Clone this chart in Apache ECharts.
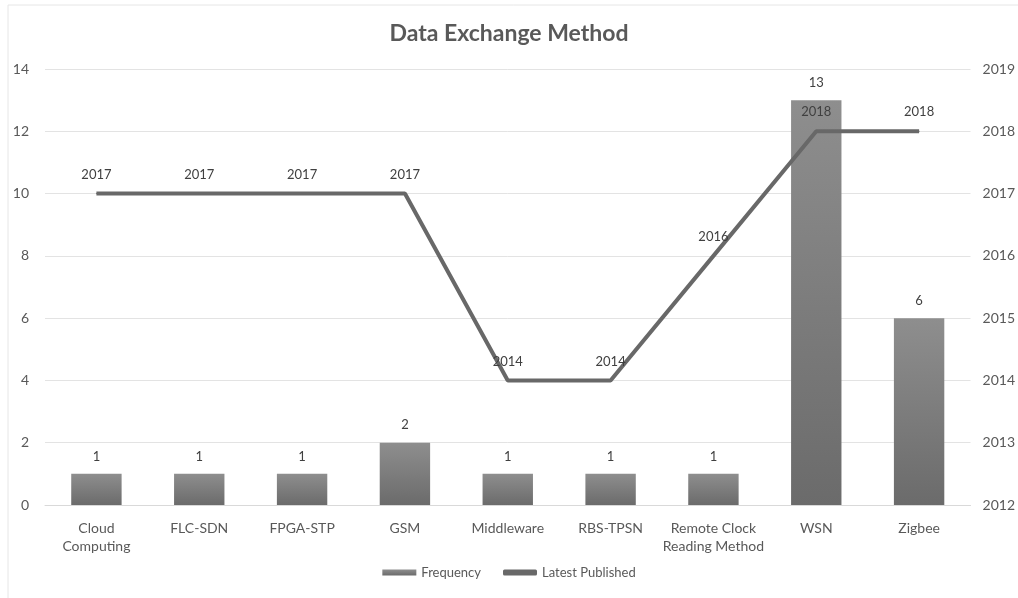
<!DOCTYPE html>
<html><head><meta charset="utf-8">
<script src="https://cdn.jsdelivr.net/npm/echarts@6/dist/echarts.min.js"></script>
<style>html,body{margin:0;padding:0;background:#fff}#c{width:1018px;height:598px}</style>
</head><body><div id="c"></div>
<script>
var categories = ['Cloud\nComputing','FLC-SDN','FPGA-STP','GSM','Middleware','RBS-TPSN','Remote Clock\nReading Method','WSN','Zigbee'];
var frequency = [1,1,1,2,1,1,1,13,6];
var latestPublished = [2017,2017,2017,2017,2014,2014,2016,2018,2018];
var titleText = 'Data Exchange Method';
var font = 'Lato, "Open Sans", sans-serif';
var chart = echarts.init(document.getElementById('c'), null, {renderer:'canvas'});
chart.setOption({
  animation:false,
  backgroundColor:'#fff',
  title:{text:titleText,left:'center',top:17,textStyle:{fontFamily:font,fontSize:23,fontWeight:'bold',color:'#595959'}},
  graphic:[{type:'polyline',shape:{points:[[8,600],[8,5],[1020,5]]},style:{stroke:'#e6e6e6',lineWidth:1,fill:null},silent:true}],
  legend:{bottom:14,left:'center',itemGap:22,textStyle:{fontFamily:font,fontSize:13,color:'#595959'},
    data:[{name:'Frequency',icon:'rect'},{name:'Latest Published',icon:'roundRect'}],itemWidth:34,itemHeight:6},
  grid:{left:45,right:47,top:69,bottom:93},
  xAxis:{type:'category',data:categories,axisLine:{lineStyle:{color:'#d9d9d9'}},axisTick:{show:false},
    axisLabel:{fontFamily:font,fontSize:14,color:'#595959',margin:14,lineHeight:18,interval:0}},
  yAxis:[{type:'value',min:0,max:14,interval:2,axisLine:{show:false},axisTick:{show:false},
    splitLine:{lineStyle:{color:'#e3e3e3'}},axisLabel:{fontFamily:font,fontSize:14,color:'#595959',margin:16}},
   {type:'value',min:2012,max:2019,interval:1,axisLine:{show:false},axisTick:{show:false},splitLine:{show:false},
    axisLabel:{fontFamily:font,fontSize:14,color:'#595959',margin:12,formatter:function(v){return String(v);}}}],
  series:[{name:'Frequency',type:'bar',data:frequency,barWidth:'49%',
    itemStyle:{color:new echarts.graphic.LinearGradient(0,0,0,1,[{offset:0,color:'#8e8e8e'},{offset:1,color:'#6b6b6b'}])},
    label:{show:true,position:'top',distance:11,fontFamily:font,fontSize:13,color:'#404040'}},
   {name:'Latest Published',type:'line',yAxisIndex:1,data:latestPublished,symbol:'circle',symbolSize:1,showSymbol:true,
    lineStyle:{width:4,color:'#686868'},itemStyle:{color:'#686868'},
    label:{show:true,position:'top',distance:12,fontFamily:font,fontSize:13,color:'#404040',formatter:function(p){return String(p.value);}}}]
});
</script></body></html>
